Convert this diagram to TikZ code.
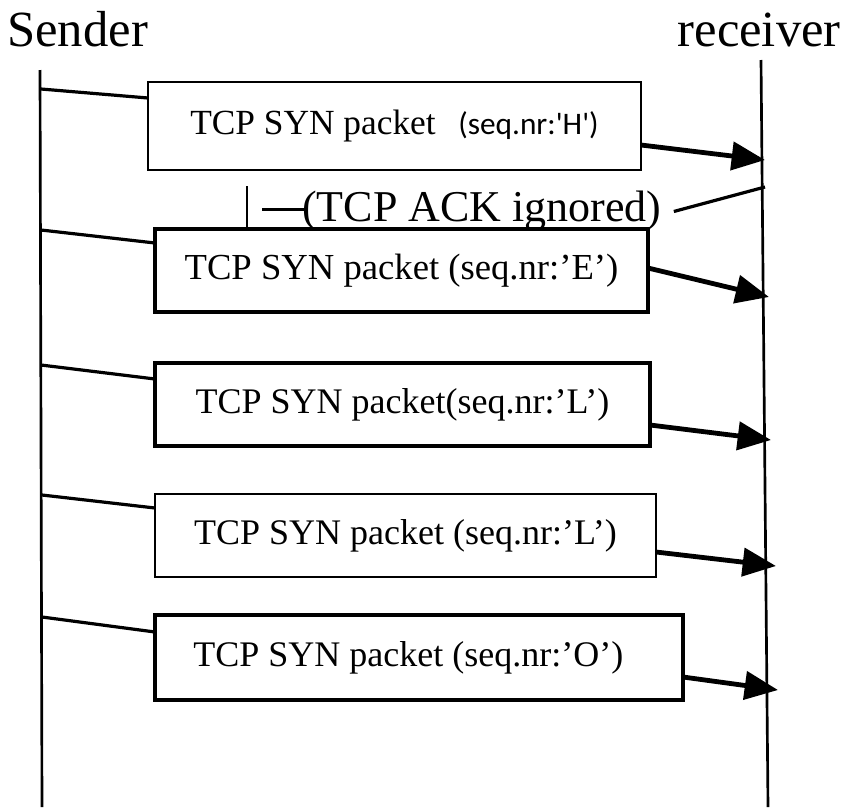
\documentclass[tikz,border=0pt]{standalone}
\usepackage{fontspec}
\setmainfont{Liberation Serif}
\newfontfamily\labelsans{Carlito}
\usetikzlibrary{arrows.meta,calc}
\begin{document}
\begin{tikzpicture}[x=0.75pt,y=-0.75pt,
  lifeline/.style={line width=2pt},
  feed/.style={line width=2.4pt},
  send/.style={line width=3.6pt,-{Triangle[length=25pt,width=21pt]}},
  packet/.style={draw,line width=2.6pt,rectangle,inner sep=0pt,outer sep=0pt,
    anchor=north west,align=center,font=\fontsize{27}{31}\selectfont},
  actor/.style={inner sep=0pt,font=\fontsize{38}{42}\selectfont}]
\useasboundingbox (0,0) rectangle (845,807);

% actors and their lifelines
\node[actor,anchor=base west] (sender) at (7,46) {Sender};
\node[actor,anchor=base east] (receiver) at (841,46) {receiver};
\coordinate (stop) at (40,70);
\coordinate (sbot) at (42,807);
\coordinate (rtop) at (761,60);
\coordinate (rbot) at (768,807);
\draw[lifeline] (stop) -- (sbot);
\draw[lifeline] (rtop) -- (rbot);

% packets
\node[packet,line width=1.6pt,minimum width=369.75pt,minimum height=66pt] (b1) at (148,82)
  {{\fontsize{26.5}{31}\selectfont TCP SYN packet}\hspace{17pt}{\labelsans\fontsize{23.5}{27}\selectfont (seq.nr:'H')}};
\node[packet,font=\fontsize{27.5}{32}\selectfont,minimum width=369.75pt,minimum height=62.25pt] (b2) at (155,229)
  {TCP SYN packet (seq.nr:’E’)};
\node[packet,minimum width=371.25pt,minimum height=62.25pt] (b3) at (155,363)
  {TCP SYN packet(seq.nr:’L’)};
\node[packet,line width=2.2pt,minimum width=375.75pt,minimum height=62.25pt] (b4) at (155,494)
  {TCP SYN packet (seq.nr:’L’)};
\node[packet,minimum width=396pt,minimum height=63.75pt] (b5) at (155,615)
  {TCP SYN packet (seq.nr:’O’)\hspace{16pt}};

% feeds from the sender
\coordinate (s1) at (41,89);
\coordinate (s2) at (41,230);
\coordinate (s3) at (41,365);
\coordinate (s4) at (42,495);
\coordinate (s5) at (42,617);
\draw[feed] (s1) -- ($(b1.north west)+(0,16)$);
\draw[feed] (s2) -- ($(b2.north west)+(0,14)$);
\draw[feed] (s3) -- ($(b3.north west)+(0,16)$);
\draw[feed] (s4) -- ($(b4.north west)+(0,14)$);
\draw[feed] (s5) -- ($(b5.north west)+(0,17)$);

% deliveries to the receiver
\coordinate (r1) at (765,160);
\coordinate (r2) at (769,297);
\coordinate (r3) at (771,440);
\coordinate (r4) at (776,566);
\coordinate (r5) at (778,690);
\draw[send] ($(b1.north east)+(0,63)$) -- (r1);
\draw[send] ($(b2.north east)+(0,39)$) -- (r2);
\draw[send] ($(b3.north east)+(0,62)$) -- (r3);
\draw[send] ($(b4.north east)+(0,58)$) -- (r4);
\draw[send] ($(b5.north east)+(0,62)$) -- (r5);

% the ignored acknowledgement
\node[inner sep=0pt,anchor=base west,font=\fontsize{33}{38}\selectfont] (ack) at (302,221) {(TCP ACK ignored)};
\coordinate (rack) at (765,187);
\draw[feed] (rack) -- ($(ack.east)+(12,1)$);
\draw[feed] ($(ack.west)+(-40,-1)$) -- ($(ack.west)+(6,-1)$);
\coordinate (tick) at (247,186);
\draw[line width=1.2pt] (tick) -- (tick |- b2.north);
\end{tikzpicture}
\end{document}
